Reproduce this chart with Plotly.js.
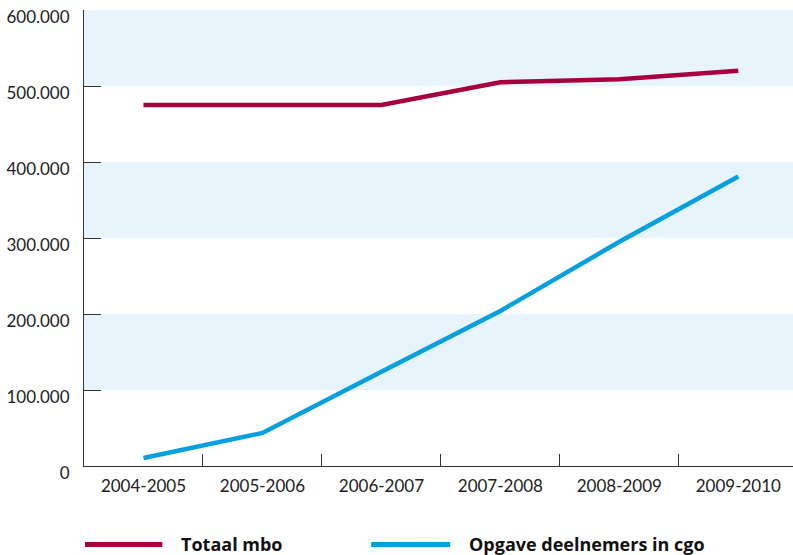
<!DOCTYPE html>
<html><head><meta charset="utf-8">
<script src="https://cdn.plot.ly/plotly-3.0.1.min.js"></script>
<style>html,body{margin:0;padding:0;background:#fff}#c{width:793px;height:555px}</style>
</head><body><div id="c"></div>
<script>
const categories = ['2004-2005','2005-2006','2006-2007','2007-2008','2008-2009','2009-2010'];
const totaalMbo = [475000, 475000, 475000, 505000, 509000, 520000];
const deelnemersCgo = [10500, 43500, 124000, 204000, 295000, 381000];
const seriesNames = ['Totaal mbo', 'Opgave deelnemers in cgo'];
const seriesColors = ['#a8003f', '#00a0e2'];
const yTickVals = [0, 100000, 200000, 300000, 400000, 500000, 600000];
const yTickText = ['0', '100.000', '200.000', '300.000', '400.000', '500.000', '600.000'];
const bandLows = [100000, 300000, 500000];
const bandHighs = [200000, 400000, 600000];

const font = 'Lato, "Open Sans", "Noto Sans", sans-serif';
const legFont = '"Open Sans", Lato, sans-serif';
const traces = [totaalMbo, deelnemersCgo].map((v, i) => ({
  x: categories, y: v, type: 'scatter', mode: 'lines', name: seriesNames[i],
  line: {color: seriesColors[i], width: 4.5}, showlegend: false, hoverinfo: 'skip'
}));

const shapes = bandLows.map((lo, i) => ({
  type: 'rect', xref: 'paper', yref: 'y', x0: 0, x1: 1, y0: lo, y1: bandHighs[i],
  fillcolor: '#e8f4fb', line: {width: 0}, layer: 'below'
}));
// legend keys
const legX = [[0.0015, 0.1105], [0.405, 0.5165]];
const annotations = [];
seriesNames.forEach((n, i) => {
  shapes.push({type: 'line', xref: 'paper', yref: 'paper', x0: legX[i][0], x1: legX[i][1],
    y0: -0.172, y1: -0.172, line: {color: seriesColors[i], width: 5}});
  annotations.push({xref: 'paper', yref: 'paper', x: legX[i][1] + 0.023, y: -0.172,
    xanchor: 'left', yanchor: 'middle', showarrow: false, text: '<b>' + n + '</b>',
    font: {family: legFont, size: 18, color: '#111'}});
});

const layout = {
  width: 793, height: 555,
  margin: {l: 84, r: 0, t: 10, b: 89},
  paper_bgcolor: '#fff', plot_bgcolor: 'rgba(0,0,0,0)',
  font: {family: font, size: 17, color: '#222'},
  xaxis: {
    type: 'category', range: [-0.5, 5.46], tickson: 'boundaries',
    ticks: 'inside', ticklen: 12, tickcolor: '#333', tickwidth: 1,
    showline: true, linecolor: '#333', linewidth: 1, showgrid: false, zeroline: false,
    ticklabelstandoff: 5, fixedrange: true
  },
  yaxis: {
    range: [0, 600000], tickvals: yTickVals, ticktext: yTickText,
    ticks: 'inside', ticklen: 17, tickcolor: '#333', tickwidth: 1,
    showline: true, linecolor: '#333', linewidth: 1, showgrid: false, zeroline: false,
    ticklabelstandoff: 10, ticklabelshift: 7, ticklabeloverflow: 'allow', fixedrange: true
  },
  shapes: shapes, annotations: annotations, showlegend: false
};
Plotly.newPlot('c', traces, layout, {displayModeBar: false, staticPlot: true});
</script></body></html>
